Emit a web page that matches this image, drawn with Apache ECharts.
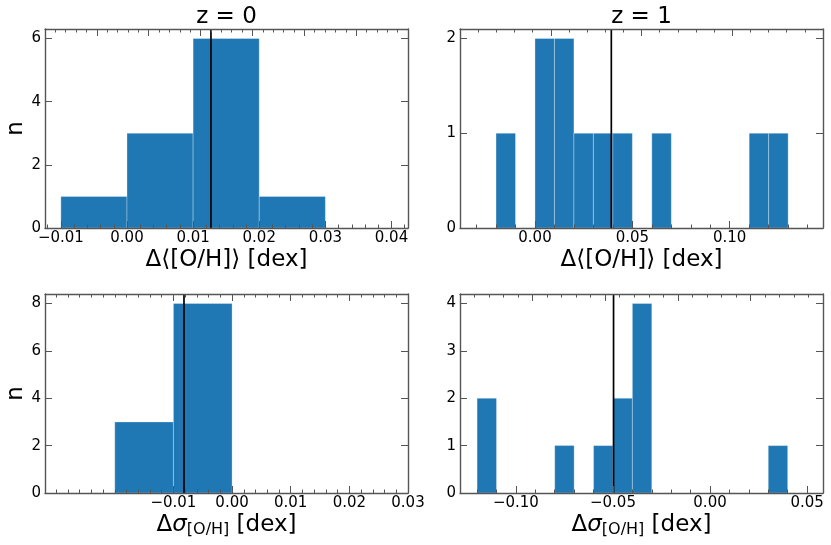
<!DOCTYPE html>
<html>
<head>
<meta charset="utf-8">
<script src="https://cdn.jsdelivr.net/npm/echarts@6/dist/echarts.min.js"></script>
<style>
  html, body { margin: 0; padding: 0; background: #fff; }
  #chart { width: 831px; height: 545px; }
</style>
</head>
<body>
<div id="chart"></div>
<script>
// histograms: left bin edges + counts, bins are 0.01 dex wide
const binWidth = 0.01
const meanZ0Edges = [-0.01, 0.00, 0.01, 0.02]
const meanZ0Counts = [1, 3, 6, 1]
const meanZ1Edges = [-0.02, 0.00, 0.01, 0.02, 0.03, 0.04, 0.06, 0.11, 0.12]
const meanZ1Counts = [1, 2, 2, 1, 1, 1, 1, 1, 1]
const sigmaZ0Edges = [-0.02, -0.01]
const sigmaZ0Counts = [3, 8]
const sigmaZ1Edges = [-0.12, -0.08, -0.06, -0.05, -0.04, 0.03]
const sigmaZ1Counts = [2, 1, 1, 2, 4, 1]
// black vertical lines
const medians = [0.0127, 0.0392, -0.0082, -0.0497]

// tick labels
const xTicksMeanZ0 = [-0.01, 0.00, 0.01, 0.02, 0.03, 0.04]
const xTicksMeanZ1 = [0.00, 0.05, 0.10]
const xTicksSigmaZ0 = [-0.01, 0.00, 0.01, 0.02, 0.03]
const xTicksSigmaZ1 = [-0.10, -0.05, 0.00, 0.05]
const yTicksMeanZ0 = [0, 2, 4, 6]
const yTicksMeanZ1 = [0, 1, 2]
const yTicksSigmaZ0 = [0, 2, 4, 6, 8]
const yTicksSigmaZ1 = [0, 1, 2, 3, 4]
const titles = ['z = 0', 'z = 1']

const meanName = 'Δ⟨[O/H]⟩ [dex]'
const sigmaName = 'Δ{s|σ}{sub|[O/H]} [dex]'

const font = 'DejaVu Sans'
const frame = '#555'

function steps (min, max, step) {
  const out = []
  for (let i = Math.ceil(min / step - 1e-9); i * step <= max + 1e-9; i++) {
    out.push(+(i * step).toFixed(6))
  }
  return out
}

const panels = [
  {
    edges: meanZ0Edges, counts: meanZ0Counts, median: medians[0],
    xTicks: xTicksMeanZ0, yTicks: yTicksMeanZ0, xlim: [-0.0124, 0.0425], ymax: 6.3, minorStep: 0.002,
    topAxis: { min: 0, max: 7, major: [1, 2, 3, 4, 5, 6], minorStep: 0.2 },
    rect: { left: 45, top: 29 }, xName: meanName, nameGap: 18, yName: 'n', title: titles[0]
  },
  {
    edges: meanZ1Edges, counts: meanZ1Counts, median: medians[1],
    xTicks: xTicksMeanZ1, yTicks: yTicksMeanZ1, xlim: [-0.0385, 0.1479], ymax: 2.1, minorStep: 0.01,
    topAxis: { min: 0, max: 4, major: [1, 2, 3], minorStep: 0.2 },
    rect: { left: 460, top: 29 }, xName: meanName, nameGap: 18, yName: '', title: titles[1]
  },
  {
    edges: sigmaZ0Edges, counts: sigmaZ0Counts, median: medians[2],
    xTicks: xTicksSigmaZ0, yTicks: yTicksSigmaZ0, xlim: [-0.0319, 0.03], ymax: 8.4, minorStep: 0.002,
    topAxis: { min: -0.0319, max: 0.03, major: xTicksSigmaZ0, minorStep: 0.002 },
    rect: { left: 45, top: 294 }, xName: sigmaName, nameGap: 15, yName: 'n', title: ''
  },
  {
    edges: sigmaZ1Edges, counts: sigmaZ1Counts, median: medians[3],
    xTicks: xTicksSigmaZ1, yTicks: yTicksSigmaZ1, xlim: [-0.1288, 0.0582], ymax: 4.2, minorStep: 0.01,
    topAxis: { min: 0, max: 5, major: [1, 2, 3, 4], minorStep: 0.2 },
    rect: { left: 460, top: 294 }, xName: sigmaName, nameGap: 15, yName: '', title: ''
  }
]

const W = 363
const H = 199
const lineStyle = { color: frame, width: 1.4 }
const tickStyle = { color: frame, width: 1 }
const fmtX = (v) => v.toFixed(2).replace('-', '\u2212')
const tickFont = 15

const grid = []
const xAxis = []
const yAxis = []
const series = []
const graphic = []

panels.forEach((p, i) => {
  const box = { left: p.rect.left, top: p.rect.top, width: W, height: H, containLabel: false, outerBoundsMode: 'none' }
  grid.push(Object.assign({}, box), Object.assign({}, box))
  const main = 2 * i
  const minor = 2 * i + 1

  // bottom axis (labels + major ticks)
  xAxis.push({
    gridIndex: main, type: 'value', position: 'bottom', min: p.xlim[0], max: p.xlim[1], z: 5,
    axisLine: { show: true, onZero: false, lineStyle },
    axisTick: { show: true, inside: true, length: 7, customValues: p.xTicks, lineStyle: tickStyle },
    axisLabel: { customValues: p.xTicks, formatter: fmtX, margin: 3, fontSize: tickFont, color: '#000', fontFamily: font },
    splitLine: { show: false },
    name: p.xName, nameLocation: 'middle', nameGap: p.nameGap,
    nameTextStyle: {
      fontSize: 23, lineHeight: 26, color: '#000', fontFamily: font,
      rich: {
        s: { fontSize: 23, lineHeight: 26, fontStyle: 'italic', fontFamily: font, color: '#000' },
        sub: { fontSize: 16, lineHeight: 11, verticalAlign: 'bottom', fontFamily: font, color: '#000' }
      }
    }
  })
  // top axis
  xAxis.push({
    gridIndex: main, type: 'value', position: 'top', min: p.topAxis.min, max: p.topAxis.max, z: 5,
    axisLine: { show: true, onZero: false, lineStyle },
    axisTick: { show: true, inside: true, length: 7, customValues: p.topAxis.major, lineStyle: tickStyle },
    axisLabel: { show: false },
    splitLine: { show: false }
  })
  // minor ticks, overlay grid
  xAxis.push({
    gridIndex: minor, type: 'value', position: 'bottom', min: p.xlim[0], max: p.xlim[1], z: 5,
    axisLine: { show: false },
    axisTick: { show: true, inside: true, length: 3.5, customValues: steps(p.xlim[0], p.xlim[1], p.minorStep), lineStyle: tickStyle },
    axisLabel: { show: false },
    splitLine: { show: false }
  })
  xAxis.push({
    gridIndex: minor, type: 'value', position: 'top', min: p.topAxis.min, max: p.topAxis.max, z: 5,
    axisLine: { show: false },
    axisTick: { show: true, inside: true, length: 3.5, customValues: steps(p.topAxis.min, p.topAxis.max, p.topAxis.minorStep), lineStyle: tickStyle },
    axisLabel: { show: false },
    splitLine: { show: false }
  })

  yAxis.push({
    gridIndex: main, type: 'value', position: 'left', min: 0, max: p.ymax, z: 5,
    axisLine: { show: true, onZero: false, lineStyle },
    axisTick: { show: true, inside: true, length: 7, customValues: p.yTicks, lineStyle: tickStyle },
    axisLabel: { customValues: p.yTicks, margin: 4, fontSize: tickFont, color: '#000', fontFamily: font },
    splitLine: { show: false },
    name: p.yName, nameLocation: 'middle', nameRotate: 90, nameGap: 15,
    nameTextStyle: { fontSize: 23, color: '#000', fontFamily: font }
  })
  yAxis.push({
    gridIndex: main, type: 'value', position: 'right', min: 0, max: p.ymax, z: 5,
    axisLine: { show: true, onZero: false, lineStyle },
    axisTick: { show: true, inside: true, length: 7, customValues: p.yTicks, lineStyle: tickStyle },
    axisLabel: { show: false },
    splitLine: { show: false }
  })
  yAxis.push({ gridIndex: minor, type: 'value', min: 0, max: 1, show: false })

  series.push({
    type: 'custom',
    xAxisIndex: 4 * i,
    yAxisIndex: 3 * i,
    z: 1,
    silent: true,
    clip: true,
    encode: { x: [0, 1], y: 2 },
    data: p.edges.map((e, k) => [e, e + binWidth, p.counts[k]]),
    renderItem: (params, api) => {
      const a = api.coord([api.value(0), api.value(2)])
      const b = api.coord([api.value(1), 0])
      return {
        type: 'rect',
        shape: { x: a[0], y: a[1], width: b[0] - a[0], height: b[1] - a[1] },
        style: { fill: '#1f77b4', stroke: 'rgba(255,255,255,0.3)', lineWidth: 1 }
      }
    }
  })
  series.push({
    type: 'line',
    xAxisIndex: 4 * i,
    yAxisIndex: 3 * i,
    z: 2,
    silent: true,
    showSymbol: false,
    lineStyle: { color: '#000', width: 1.7 },
    data: [[p.median, 0], [p.median, p.ymax]]
  })

  if (p.title) {
    graphic.push({
      type: 'text',
      x: p.rect.left + W / 2,
      y: 17,
      style: { text: p.title, fontSize: 23, fontFamily: font, fill: '#000', align: 'center', verticalAlign: 'middle' }
    })
  }
})

const chart = echarts.init(document.getElementById('chart'), null, { renderer: 'canvas' })
chart.setOption({
  animation: false,
  backgroundColor: '#fff',
  textStyle: { fontFamily: font },
  grid,
  xAxis,
  yAxis,
  series,
  graphic
})
</script>
</body>
</html>
